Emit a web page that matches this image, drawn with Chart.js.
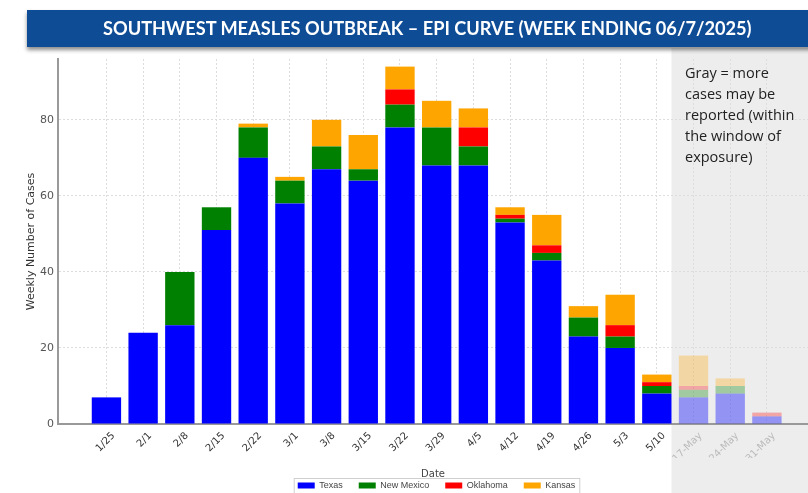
<!DOCTYPE html>
<html>
<head>
<meta charset="utf-8">
<script src="https://cdn.jsdelivr.net/npm/chart.js@4/dist/chart.umd.min.js"></script>
<style>
  html, body { margin: 0; padding: 0; background: #fff; }
  #wrap { position: relative; width: 808px; height: 493px; overflow: hidden; }
  #banner {
    position: absolute; left: 27px; top: 10px; width: 800px; height: 37px;
    background: #0f4c96; color: #fff; box-shadow: 0 3px 4px rgba(0,0,0,0.45);
    font: bold 18.2px Lato, "Open Sans", sans-serif; line-height: 37px;
    text-align: left; padding-left: 76px; box-sizing: border-box; white-space: nowrap;
  }
  #note {
    position: absolute; left: 685px; top: 62px; width: 120px;
    font: 14.5px "Open Sans", Lato, sans-serif; line-height: 21px; color: #222;
  }
</style>
</head>
<body>
<div id="wrap">
  <canvas id="chartEpi" width="808" height="493"></canvas>
  <div id="banner">SOUTHWEST MEASLES OUTBREAK – EPI CURVE (WEEK ENDING 06/7/2025)</div>
  <div id="note">Gray = more cases may be reported (within the window of exposure)</div>
</div>
<script>
'use strict'

// week labels
var weeks = ['1/25', '2/1', '2/8', '2/15', '2/22', '3/1', '3/8', '3/15', '3/22', '3/29',
             '4/5', '4/12', '4/19', '4/26', '5/3', '5/10', '17-May', '24-May', '31-May'];
// cases per week by state
var texas      = [7, 24, 26, 51, 70, 58, 67, 64, 78, 68, 68, 53, 43, 23, 20, 8, 7, 8, 2];
var newMexico  = [0, 0, 14, 6, 8, 6, 6, 3, 6, 10, 5, 1, 2, 5, 3, 2, 2, 2, 0];
var oklahoma   = [0, 0, 0, 0, 0, 0, 0, 0, 4, 0, 5, 1, 2, 0, 3, 1, 1, 0, 1];
var kansas     = [0, 0, 0, 0, 1, 1, 7, 9, 6, 7, 5, 2, 8, 3, 8, 2, 8, 2, 0];
var yTicks     = [0, 20, 40, 60, 80];
var firstGray  = 16; // weeks from here on may still grow

function pts(arr) {
    return arr.map(function (v, i) { return { x: i, y: v }; });
}
function colors(solid, faded) {
    return weeks.map(function (w, i) { return i >= firstGray ? faded : solid; });
}

var grayZone = {
    id: 'grayZone',
    afterLayout: function (chart) {
        // legend sits under the plot centre, a bit lower
        var lg = chart.legend;
        lg.left += 20; lg.right += 20;
        lg.top += 7; lg.bottom += 7;
    },
    beforeDraw: function (chart) {
        var c = chart.ctx, xs = chart.scales.x;
        var x0 = xs.getPixelForValue(firstGray - 0.6);
        c.save();
        c.fillStyle = '#ededed';
        c.fillRect(x0, 48, chart.width - x0, chart.height - 48);
        c.restore();
    },
    afterDraw: function (chart) {
        // box round the legend
        var hb = chart.legend.legendHitBoxes;
        if (!hb || !hb.length) return;
        var l = hb[0].left - 4, r = hb[hb.length - 1].left + hb[hb.length - 1].width + 4;
        var t = hb[0].top - 3, b = hb[0].top + hb[0].height + 3;
        var c = chart.ctx;
        c.save();
        c.strokeStyle = '#d0d0d0';
        c.lineWidth = 1;
        c.strokeRect(l + 0.5, t + 0.5, r - l, b - t);
        c.restore();
    }
};

var ctx = document.getElementById('chartEpi');
var epiChart = new Chart(ctx, {
    type: 'bar',
    data: {
        datasets: [
            { label: 'Texas', data: pts(texas), backgroundColor: colors('#0000ff', 'rgba(0,0,255,0.38)') },
            { label: 'New Mexico', data: pts(newMexico), backgroundColor: colors('#008000', 'rgba(0,128,0,0.32)') },
            { label: 'Oklahoma', data: pts(oklahoma), backgroundColor: colors('#ff0000', 'rgba(255,0,0,0.3)') },
            { label: 'Kansas', data: pts(kansas), backgroundColor: colors('#ffa500', 'rgba(255,165,0,0.3)') }
        ]
    },
    plugins: [grayZone],
    options: {
        responsive: false,
        animation: false,
        barPercentage: 0.8,
        categoryPercentage: 1,
        layout: { padding: { top: 59, left: 25, right: 0, bottom: 0 } },
        plugins: {
            tooltip: { enabled: false },
            legend: {
                position: 'bottom',
                labels: {
                    boxWidth: 17, boxHeight: 6, padding: 16,
                    color: '#444', font: { family: 'Liberation Sans', size: 9 }
                }
            }
        },
        scales: {
            x: {
                type: 'linear', stacked: true, min: -1.32, max: 19.12, offset: false,
                afterBuildTicks: function (s) { s.ticks = weeks.map(function (w, i) { return { value: i }; }); },
                afterFit: function (s) { s.height = 34; },
                ticks: {
                    autoSkip: false, maxRotation: 45, minRotation: 45, padding: 6, labelOffset: 7,
                    font: { family: 'DejaVu Sans', size: 10 },
                    color: function (c) { return c.tick && c.tick.value >= firstGray ? '#bbbbbb' : '#333'; },
                    callback: function (v) { return weeks[v]; }
                },
                grid: { color: '#dddddd', lineWidth: 1, offset: false, drawTicks: false },
                border: { color: '#999', width: 2, dash: [2, 2] },
                title: { display: true, text: 'Date', color: '#444', font: { family: 'DejaVu Sans', size: 10 }, padding: { top: 0, bottom: -22 } }
            },
            y: {
                stacked: true, min: 0, max: 96,
                afterBuildTicks: function (s) { s.ticks = yTicks.map(function (v) { return { value: v }; }); },
                afterFit: function (s) { s.width = 33; },
                ticks: { color: '#555', font: { family: 'DejaVu Sans', size: 11 }, padding: 4 },
                grid: { color: '#dddddd', lineWidth: 1, drawTicks: false },
                border: { color: '#999', width: 2, dash: [2, 2] },
                title: { display: true, text: 'Weekly Number of Cases', color: '#333', font: { family: 'DejaVu Sans', size: 11 }, padding: { top: 0, bottom: 2 } }
            }
        }
    }
});
</script>
</body>
</html>
